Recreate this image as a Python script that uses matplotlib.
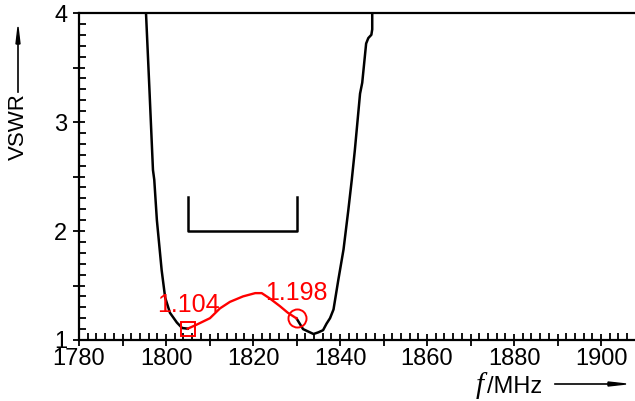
import matplotlib.pyplot as plt
import numpy as np
from matplotlib.ticker import MultipleLocator, FuncFormatter

# VSWR curve
freq = [1795.4, 1796.2, 1797.0, 1797.3, 1797.9, 1799.0, 1799.8, 1800.9, 1802.5, 1803.7, 1805.0,
        1807.0, 1810.1, 1812.4, 1814.7, 1817.7, 1820.5, 1822.0, 1823.9, 1826.2, 1828.0, 1830.0,
        1831.5, 1833.9, 1835.0, 1836.1, 1836.9, 1837.7, 1838.5, 1839.6, 1840.8, 1841.9, 1842.7,
        1843.4, 1844.6, 1845.1, 1846.0, 1846.5, 1847.2, 1847.4, 1847.4]
vswr = [4.00, 3.29, 2.56, 2.47, 2.10, 1.64, 1.39, 1.25, 1.16, 1.11, 1.104,
        1.14, 1.20, 1.29, 1.35, 1.40, 1.43, 1.43, 1.38, 1.31, 1.25, 1.198,
        1.10, 1.055, 1.07, 1.09, 1.15, 1.20, 1.28, 1.55, 1.83, 2.19, 2.47,
        2.74, 3.26, 3.36, 3.72, 3.77, 3.80, 3.85, 4.00]

band = [1805, 1830]        # bracket
band_level = [2.0, 2.31]
mark_f = [1805, 1830]
mark_v = [1.104, 1.198]
mark_txt = ['1.104', '1.198']

freq = np.array(freq)
vswr = np.array(vswr)

plt.rcParams['font.family'] = ['Liberation Sans', 'DejaVu Sans']

fig = plt.figure(figsize=(6.35, 4.01), dpi=100)
ax = fig.add_axes([79/635, 61/401, 1 - 79/635, 327/401])

W, H = 635, 401
def fx(px):
    return px / W
def fy(py):
    return 1 - py / H

left = freq <= mark_f[0]
mid = (freq >= mark_f[0]) & (freq <= mark_f[1])
right = freq >= mark_f[1]
ax.plot(freq[left], vswr[left], color='black', lw=1.8, solid_joinstyle='round')
ax.plot(freq[right], vswr[right], color='black', lw=1.8, solid_joinstyle='round')
ax.plot(freq[mid], vswr[mid], color='red', lw=1.7, zorder=3)

ax.plot(mark_f[0], mark_v[0], marker='s', ms=9.5, mfc='none', mec='red', mew=1.4, zorder=4)
ax.plot(mark_f[1], mark_v[1], marker='o', ms=13, mfc='none', mec='red', mew=1.4, zorder=4)
ax.text(mark_f[0] + 0.2, 1.257, mark_txt[0], color='red', fontsize=18, ha='center', va='baseline')
ax.text(mark_f[1] + 0.0, 1.367, mark_txt[1], color='red', fontsize=18, ha='center', va='baseline')

# bracket
ax.plot([band[0], band[0], band[1], band[1]],
        [band_level[1], band_level[0], band_level[0], band_level[1]], color='black', lw=1.8)

ax.set_xlim(1780, 1907.8)
ax.set_ylim(1, 4)
ax.spines['right'].set_visible(False)
for s in ['left', 'bottom', 'top']:
    ax.spines[s].set_linewidth(1.6)

ax.xaxis.set_major_locator(MultipleLocator(10))
ax.xaxis.set_minor_locator(MultipleLocator(2))
ax.xaxis.set_major_formatter(FuncFormatter(lambda v, p: '%d' % v if round(v) % 20 == 0 else ''))
ax.yaxis.set_major_locator(MultipleLocator(0.5))
ax.yaxis.set_minor_locator(MultipleLocator(0.1))
ax.yaxis.set_major_formatter(FuncFormatter(lambda v, p: '%d' % v if abs(v - round(v)) < 1e-6 else ''))

ax.tick_params(which='major', direction='inout', length=9, width=1.3, labelsize=17)
ax.tick_params(which='minor', direction='in', length=5, width=1.3)
ax.tick_params(axis='x', which='major', pad=1)
ax.tick_params(axis='y', which='major', pad=4)

# axis labels with arrows
fig.text(fx(18), fy(127), 'VSWR', rotation=90, ha='center', va='center', fontsize=16)
fig.add_artist(plt.Line2D([fx(18), fx(18)], [fy(92), fy(40)], color='black', lw=1.2))
fig.patches.append(plt.Polygon([[fx(16), fy(44)], [fx(20), fy(44)], [fx(18), fy(27)]],
                               closed=True, color='black', transform=fig.transFigure, figure=fig))

fig.text(fx(480), fy(393), 'f', ha='center', va='baseline', fontsize=21,
         family=['Liberation Serif', 'DejaVu Serif'], style='italic')
fig.text(fx(487), fy(393), '/MHz', ha='left', va='baseline', fontsize=17)
fig.add_artist(plt.Line2D([fx(555), fx(612)], [fy(384), fy(384)], color='black', lw=1.2))
fig.patches.append(plt.Polygon([[fx(608), fy(382)], [fx(608), fy(386)], [fx(626), fy(384)]],
                               closed=True, color='black', transform=fig.transFigure, figure=fig))

fig.savefig('out.png', dpi=100)
